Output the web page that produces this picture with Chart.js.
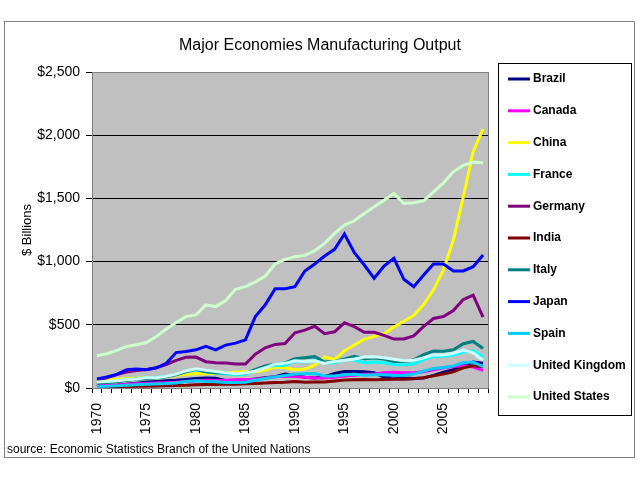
<!DOCTYPE html>
<html>
<head>
<meta charset="utf-8">
<script src="https://cdn.jsdelivr.net/npm/chart.js@4/dist/chart.umd.min.js"></script>
<style>
  html, body { margin: 0; padding: 0; background: #fff; }
  #wrap { width: 640px; height: 480px; }
</style>
</head>
<body>
<div id="wrap"><canvas id="mfgChart" width="640" height="480"></canvas></div>
<script>
var years = ['1970','1971','1972','1973','1974','1975','1976','1977','1978','1979',
             '1980','1981','1982','1983','1984','1985','1986','1987','1988','1989',
             '1990','1991','1992','1993','1994','1995','1996','1997','1998','1999',
             '2000','2001','2002','2003','2004','2005','2006','2007','2008','2009'];

// $ billions
var brazil  = [15, 18, 22, 30, 38, 45, 52, 58, 62, 68, 75, 80, 78, 60, 58, 62, 72, 82, 90, 110,
               100, 85, 80, 90, 115, 130, 130, 128, 120, 85, 95, 80, 75, 80, 100, 125, 145, 175, 205, 195];
var canada  = [18, 20, 23, 28, 33, 35, 40, 42, 45, 52, 58, 62, 60, 62, 66, 68, 70, 78, 88, 92,
               90, 85, 80, 80, 85, 95, 100, 108, 110, 120, 125, 120, 120, 128, 145, 160, 170, 178, 165, 140];
var china   = [60, 65, 70, 75, 78, 80, 82, 88, 100, 108, 112, 112, 118, 122, 125, 128, 128, 140, 165, 160,
               145, 150, 180, 245, 225, 295, 340, 385, 408, 430, 482, 528, 575, 660, 778, 935, 1170, 1510, 1870, 2050];
var france  = [42, 46, 55, 68, 72, 82, 85, 92, 110, 130, 145, 128, 120, 110, 105, 108, 140, 165, 178, 180,
               212, 205, 220, 195, 200, 225, 222, 200, 205, 200, 185, 183, 190, 225, 250, 252, 262, 285, 295, 245];
var germany = [62, 80, 106, 127, 138, 146, 160, 186, 218, 243, 245, 208, 200, 198, 190, 190, 268, 318, 345, 352,
               437, 458, 488, 430, 445, 516, 485, 441, 441, 416, 387, 388, 412, 488, 550, 565, 613, 700, 734, 560];
var india   = [8, 9, 10, 11, 13, 14, 15, 17, 20, 22, 26, 28, 28, 30, 30, 33, 36, 40, 44, 46,
               52, 45, 48, 48, 56, 64, 66, 68, 66, 68, 70, 70, 74, 82, 96, 110, 128, 160, 175, 168];
var italy   = [40, 44, 50, 60, 72, 72, 80, 88, 105, 128, 148, 128, 120, 118, 112, 115, 148, 175, 190, 198,
               232, 240, 248, 205, 210, 230, 250, 232, 238, 230, 210, 210, 222, 265, 292, 290, 302, 350, 368, 312];
var japan   = [71, 87, 108, 145, 150, 145, 160, 195, 280, 289, 302, 329, 302, 339, 355, 381, 565, 658, 786, 786,
               802, 926, 981, 1044, 1097, 1218, 1070, 973, 868, 965, 1026, 860, 802, 894, 981, 981, 926, 926, 960, 1052];
var spain   = [12, 14, 17, 22, 26, 30, 32, 35, 40, 52, 58, 52, 50, 44, 44, 46, 62, 75, 88, 98,
               110, 112, 115, 95, 95, 105, 108, 100, 105, 105, 98, 100, 110, 135, 155, 162, 175, 200, 205, 170];
var uk      = [48, 52, 58, 65, 72, 82, 82, 92, 110, 135, 152, 140, 130, 120, 112, 118, 135, 160, 190, 195,
               215, 210, 215, 195, 210, 220, 230, 245, 248, 240, 228, 215, 220, 238, 262, 262, 275, 300, 278, 220];
var usa     = [255, 271, 297, 329, 342, 360, 408, 466, 518, 565, 578, 658, 644, 692, 781, 802, 839, 886, 981, 1018,
               1039, 1049, 1086, 1144, 1223, 1289, 1323, 1381, 1433, 1486, 1539, 1460, 1465, 1481, 1552, 1623, 1710, 1762, 1788, 1780];

var yTicks = [0, 500, 1000, 1500, 2000, 2500];

var series = [
  ['Brazil', brazil, '#000080'],
  ['Canada', canada, '#FF00FF'],
  ['China', china, '#FFFF00'],
  ['France', france, '#00FFFF'],
  ['Germany', germany, '#800080'],
  ['India', india, '#800000'],
  ['Italy', italy, '#008080'],
  ['Japan', japan, '#0000FF'],
  ['Spain', spain, '#00CCFF'],
  ['United Kingdom', uk, '#CCFFFF'],
  ['United States', usa, '#CCFFCC']
];

var FONT = '"Liberation Sans", Arial, sans-serif';

var datasets = series.map(function (s, i) {
  return {
    label: s[0],
    data: s[1],
    borderColor: s[2],
    backgroundColor: s[2],
    borderWidth: 3,
    pointRadius: 0,
    tension: 0,
    fill: false,
    order: series.length - i   // later series on top, like the original
  };
});

// frame, plot fill, boxed legend and source note
var decor = {
  id: 'decor',
  beforeDraw: function (chart) {
    var c = chart.ctx, a = chart.chartArea;
    c.save();
    c.fillStyle = '#fff';
    c.fillRect(0, 0, chart.width, chart.height);
    c.fillStyle = '#C0C0C0';
    c.fillRect(a.left, a.top, a.right - a.left, a.bottom - a.top);
    c.restore();
  },
  afterDraw: function (chart) {
    var c = chart.ctx, a = chart.chartArea;
    c.save();
    c.lineWidth = 1;
    c.strokeStyle = '#808080';
    c.strokeRect(4.5, 21.5, 630, 436);
    c.strokeRect(Math.round(a.left) + 0.5, Math.round(a.top) + 0.5,
                 Math.round(a.right - a.left), Math.round(a.bottom - a.top));

    // legend
    c.strokeStyle = '#000';
    c.strokeRect(498.5, 63.5, 133, 352);
    c.font = 'bold 12px ' + FONT;
    c.textBaseline = 'middle';
    c.textAlign = 'left';
    chart.data.datasets.forEach(function (ds, i) {
      var y = 79 + i * 31.8;
      c.strokeStyle = ds.borderColor;
      c.lineWidth = 3;
      c.beginPath();
      c.moveTo(508, y);
      c.lineTo(530, y);
      c.stroke();
      c.fillStyle = '#000';
      c.fillText(ds.label, 533, y);
    });

    c.font = '12px ' + FONT;
    c.fillStyle = '#000';
    c.fillText('source: Economic Statistics Branch of the United Nations', 7, 450);
    c.restore();
  }
};

var ctx = document.getElementById('mfgChart').getContext('2d');
var chart = new Chart(ctx, {
  type: 'line',
  data: { labels: years, datasets: datasets },
  plugins: [decor],
  options: {
    responsive: false,
    animation: false,
    layout: { padding: 0 },
    plugins: {
      legend: { display: false },
      tooltip: { enabled: false },
      title: {
        display: true,
        text: 'Major Economies Manufacturing Output',
        color: '#000',
        font: { family: FONT, size: 16, weight: 'normal' },
        padding: { top: 36, bottom: 16.8 }
      }
    },
    scales: {
      x: {
        type: 'category',
        offset: true,
        grid: { display: true, offset: true, drawOnChartArea: false, drawTicks: true, tickLength: 5, tickColor: '#000' },
        border: { display: true, color: '#808080' },
        ticks: {
          autoSkip: false,
          maxRotation: 90,
          minRotation: 90,
          padding: 10,
          color: '#000',
          font: { family: FONT, size: 14 },
          callback: function (val, idx) { return idx % 5 === 0 ? this.getLabelForValue(val) : ''; }
        },
        afterFit: function (s) { s.height = 92; }
      },
      y: {
        min: yTicks[0],
        max: yTicks[yTicks.length - 1],
        afterBuildTicks: function (s) { s.ticks = yTicks.map(function (v) { return { value: v }; }); },
        grid: {
          color: function (c) { return c.tick && c.tick.value === 2500 ? '#808080' : '#000'; },
          lineWidth: 1,
          tickLength: 6,
          tickColor: '#000'
        },
        border: { display: true, color: '#808080' },
        ticks: {
          padding: 6,
          color: '#000',
          font: { family: FONT, size: 14 },
          callback: function (v) { return '$' + Number(v).toLocaleString('en-US'); }
        },
        title: {
          display: true,
          text: '$ Billions',
          color: '#000',
          font: { family: FONT, size: 13 },
          padding: { top: 20, bottom: 0 }
        },
        afterFit: function (s) { s.width = 92; }
      },
      pad: {
        type: 'linear',
        position: 'right',
        display: true,
        grid: { display: false },
        border: { display: false },
        ticks: { display: false },
        afterFit: function (s) { s.width = 152; }
      }
    }
  }
});
</script>
</body>
</html>
